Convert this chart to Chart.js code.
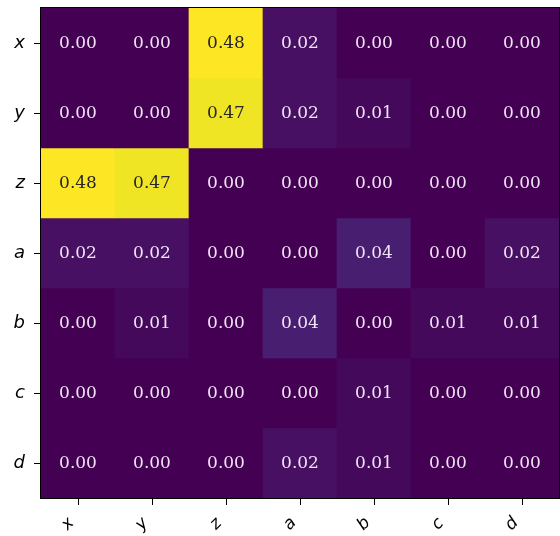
<!DOCTYPE html>
<html>
<head>
<meta charset="utf-8">
<script src="https://cdn.jsdelivr.net/npm/chart.js@4"></script>
<style>
    html, body { margin: 0; padding: 0; background: #fff; }
    #wrap { width: 560px; height: 536px; }
</style>
</head>
<body>
<div id="wrap"><canvas id="heat_canvas" width="560" height="536"></canvas></div>
<script>
// categories (same for rows and columns)
const LABELS = ['x', 'y', 'z', 'a', 'b', 'c', 'd'];
// one array per row
const row_x = [0.00, 0.00, 0.48, 0.02, 0.00, 0.00, 0.00];
const row_y = [0.00, 0.00, 0.47, 0.02, 0.01, 0.00, 0.00];
const row_z = [0.48, 0.47, 0.00, 0.00, 0.00, 0.00, 0.00];
const row_a = [0.02, 0.02, 0.00, 0.00, 0.04, 0.00, 0.02];
const row_b = [0.00, 0.01, 0.00, 0.04, 0.00, 0.01, 0.01];
const row_c = [0.00, 0.00, 0.00, 0.00, 0.01, 0.00, 0.00];
const row_d = [0.00, 0.00, 0.00, 0.02, 0.01, 0.00, 0.00];
const ROWS = [row_x, row_y, row_z, row_a, row_b, row_c, row_d];

// viridis stops
const VIRIDIS = [
    [0.0, 68, 1, 84], [0.05, 71, 19, 101], [0.1, 72, 36, 117], [0.2, 65, 68, 135],
    [0.3, 53, 95, 141], [0.4, 42, 120, 142], [0.5, 33, 145, 140], [0.6, 34, 168, 132],
    [0.7, 68, 191, 112], [0.8, 122, 209, 81], [0.9, 189, 223, 38], [1.0, 253, 231, 37]
];

function viridis(t) {
    t = Math.max(0, Math.min(1, t));
    for (let i = 1; i < VIRIDIS.length; i++) {
        if (t <= VIRIDIS[i][0]) {
            let a = VIRIDIS[i - 1], b = VIRIDIS[i];
            let f = (t - a[0]) / (b[0] - a[0]);
            let c = [1, 2, 3].map(k => Math.round(a[k] + (b[k] - a[k]) * f));
            return 'rgb(' + c.join(',') + ')';
        }
    }
    return 'rgb(253,231,37)';
}

const V_MIN = Math.min(...ROWS.flat());
const V_MAX = Math.max(...ROWS.flat());

// each row is a dataset of floating bars spanning one unit of the y axis
let datasets = [];
for (let i = 0; i < ROWS.length; i++) {
    let colors = ROWS[i].map(v => viridis((v - V_MIN) / (V_MAX - V_MIN)));
    datasets.push({
        label: LABELS[i],
        data: ROWS[i].map(() => [i - 0.5, i + 0.5]),
        values: ROWS[i],
        backgroundColor: colors,
        borderColor: colors,
        borderWidth: 0,
        barPercentage: 1,
        categoryPercentage: 1
    });
}

// cell text, x labels and frame
const heat_plugin = {
    id: 'heat_plugin',
    afterDatasetsDraw(chart) {
        const ctx = chart.ctx;
        ctx.save();
        ctx.font = '17px "DejaVu Serif"';
        ctx.textAlign = 'center';
        ctx.textBaseline = 'middle';
        chart.data.datasets.forEach((ds, i) => {
            chart.getDatasetMeta(i).data.forEach((bar, j) => {
                let v = ds.values[j];
                ctx.fillStyle = v > (V_MAX - V_MIN) / 2 ? '#262626' : '#efe4f3';
                ctx.fillText(v.toFixed(2), bar.x, (bar.y + bar.base) / 2 + 1);
            });
        });
        ctx.restore();
    },
    afterDraw(chart) {
        const ctx = chart.ctx;
        const area = chart.chartArea;
        const x_scale = chart.scales.x;
        ctx.save();
        ctx.strokeStyle = '#000';
        ctx.lineWidth = 1;
        ctx.strokeRect(area.left - 0.5, area.top - 0.5, area.right - area.left + 1, area.bottom - area.top + 1);
        ctx.fillStyle = '#000';
        ctx.font = 'italic 17px "DejaVu Sans"';
        ctx.textAlign = 'center';
        ctx.textBaseline = 'middle';
        LABELS.forEach((lab, i) => {
            let px = x_scale.getPixelForTick(i);
            ctx.save();
            ctx.translate(px - 10, area.bottom + 26);
            ctx.rotate(-Math.PI / 4);
            ctx.fillText(lab, 0, 0);
            ctx.restore();
        });
        ctx.restore();
    }
};

let THE_CHART = new Chart(document.getElementById('heat_canvas'), {
    type: 'bar',
    data: { labels: LABELS, datasets: datasets },
    plugins: [heat_plugin],
    options: {
        responsive: false,
        animation: false,
        grouped: false,
        layout: { padding: { top: 8, right: 1, left: 0, bottom: 0 } },
        plugins: { legend: { display: false }, tooltip: { enabled: false } },
        scales: {
            x: {
                type: 'category',
                offset: true,
                grid: { drawOnChartArea: false, offset: false, tickLength: 7, tickColor: '#000', tickWidth: 1 },
                border: { display: false },
                ticks: { display: false },
                afterFit(scale) {
                    scale.height = 38;
                    scale.paddingLeft = 0;
                    scale.paddingRight = 0;
                }
            },
            y: {
                type: 'linear',
                reverse: true,
                min: -0.5,
                max: 6.5,
                grid: { drawOnChartArea: false, tickLength: 7, tickColor: '#000', tickWidth: 1 },
                border: { display: false },
                afterBuildTicks(scale) {
                    scale.ticks = LABELS.map((l, i) => ({ value: i }));
                },
                ticks: {
                    autoSkip: false,
                    padding: 9,
                    color: '#000',
                    font: { family: 'DejaVu Sans', style: 'italic', size: 18 },
                    callback: (v) => LABELS[v]
                },
                afterFit(scale) {
                    scale.width = 41;
                    scale.paddingTop = 0;
                    scale.paddingBottom = 0;
                }
            }
        }
    }
});
</script>
</body>
</html>
